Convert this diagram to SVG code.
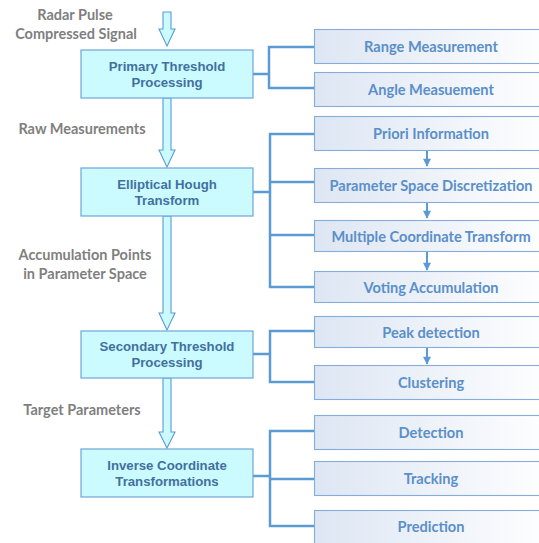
<svg xmlns="http://www.w3.org/2000/svg" width="539" height="543" viewBox="0 0 539 543">
  <defs>
    <linearGradient id="subFill" x1="0" y1="0" x2="1" y2="0">
      <stop offset="0" stop-color="#dde6f3"/>
      <stop offset="1" stop-color="#ffffff"/>
    </linearGradient>
    <marker id="tip" viewBox="0 0 10 10" refX="9" refY="5" markerWidth="10" markerHeight="8" markerUnits="userSpaceOnUse" orient="auto">
      <path d="M0,0 L10,5 L0,10 Z" fill="#5b9bd5"/>
    </marker>
    <style>
      .stage { fill: #ccfbff; stroke: #6ea6d8; stroke-width: 1.2; }
      .stage-t { font-family: "Liberation Sans", Arial, sans-serif; font-weight: bold; font-size: 13.2px; fill: #41709f; text-anchor: middle; }
      .sub { fill: url(#subFill); stroke: #86acdb; stroke-width: 1.1; }
      .sub-t { font-family: Lato, "Open Sans", sans-serif; font-weight: bold; font-size: 14.6px; fill: #5a8fc9; text-anchor: middle; }
      .lbl { font-family: Lato, "Open Sans", sans-serif; font-weight: bold; font-size: 14.5px; fill: #7f7f7f; text-anchor: middle; }
      .flow { fill: #ccfbff; stroke: #5b9bd5; stroke-width: 1.1; }
      .bracket { fill: none; stroke: #5b9bd5; stroke-width: 2.5; }
      .step { fill: none; stroke: #5b9bd5; stroke-width: 2; marker-end: url(#tip); }
    </style>
  </defs>

  <!-- flow labels between stages -->
  <g id="labels">
    <text class="lbl" x="75" y="20">Radar Pulse</text>
    <text class="lbl" x="76" y="39">Compressed Signal</text>
    <text class="lbl" x="82" y="134">Raw Measurements</text>
    <text class="lbl" x="85" y="260">Accumulation Points</text>
    <text class="lbl" x="85" y="279">in Parameter Space</text>
    <text class="lbl" x="82" y="415">Target Parameters</text>
  </g>

  <!-- connectors: hollow block arrows, brackets and step arrows -->
  <g id="connectors">
    <path class="flow" d="M163,12 H171 V29 H175 L167,46 L159,29 H163 Z"/>
    <path class="flow" d="M163,98 H171 V150 H175 L167,167 L159,150 H163 Z"/>
    <path class="flow" d="M163,216 H171 V313 H175 L167,330 L159,313 H163 Z"/>
    <path class="flow" d="M163,378 H171 V432 H175 L167,448 L159,432 H163 Z"/>

    <path class="bracket" d="M253,74 H269 M314,47 H269 V88 H314"/>
    <path class="bracket" d="M253,192 H270 M314,134 H270 V287 H314 M270,182 H314 M270,235 H314"/>
    <path class="bracket" d="M253,354 H270 M314,331 H270 V382 H314"/>
    <path class="bracket" d="M253,476 H270 M314,431 H270 V526 H314 M270,479 H314"/>

    <path class="step" d="M427,150 V166"/>
    <path class="step" d="M427,202 V218"/>
    <path class="step" d="M427,251 V270"/>
    <path class="step" d="M427,348 V364"/>
  </g>

  <!-- main stages -->
  <g id="primary-threshold">
    <rect class="stage" x="81" y="50" width="172" height="48"/>
    <text class="stage-t" x="167" y="71">Primary Threshold</text>
    <text class="stage-t" x="167" y="87">Processing</text>
  </g>
  <g id="elliptical-hough">
    <rect class="stage" x="81" y="168" width="172" height="48"/>
    <text class="stage-t" x="167" y="189">Elliptical Hough</text>
    <text class="stage-t" x="167" y="205">Transform</text>
  </g>
  <g id="secondary-threshold">
    <rect class="stage" x="81" y="331" width="172" height="47"/>
    <text class="stage-t" x="167" y="351">Secondary Threshold</text>
    <text class="stage-t" x="167" y="367">Processing</text>
  </g>
  <g id="inverse-coordinate">
    <rect class="stage" x="81" y="449" width="172" height="48"/>
    <text class="stage-t" x="167" y="470">Inverse Coordinate</text>
    <text class="stage-t" x="167" y="486">Transformations</text>
  </g>

  <!-- sub-steps -->
  <g id="range-measurement">
    <rect class="sub" x="314.5" y="29.5" width="240" height="34"/>
    <text class="sub-t" x="431" y="51.5">Range Measurement</text>
  </g>
  <g id="angle-measurement">
    <rect class="sub" x="314.5" y="72.5" width="240" height="34"/>
    <text class="sub-t" x="431" y="94.5">Angle Measuement</text>
  </g>
  <g id="priori-information">
    <rect class="sub" x="314.5" y="116.5" width="240" height="34"/>
    <text class="sub-t" x="431" y="138.5">Priori Information</text>
  </g>
  <g id="parameter-space">
    <rect class="sub" x="314.5" y="168.5" width="240" height="34"/>
    <text class="sub-t" x="431" y="190.5">Parameter Space Discretization</text>
  </g>
  <g id="coordinate-transform">
    <rect class="sub" x="314.5" y="220.5" width="240" height="31"/>
    <text class="sub-t" x="431" y="241.5">Multiple Coordinate Transform</text>
  </g>
  <g id="voting-accumulation">
    <rect class="sub" x="314.5" y="271.5" width="240" height="31"/>
    <text class="sub-t" x="431" y="292.5">Voting Accumulation</text>
  </g>
  <g id="peak-detection">
    <rect class="sub" x="314.5" y="316.5" width="240" height="31"/>
    <text class="sub-t" x="431" y="337.5">Peak detection</text>
  </g>
  <g id="clustering">
    <rect class="sub" x="314.5" y="365.5" width="240" height="34"/>
    <text class="sub-t" x="431" y="387.5">Clustering</text>
  </g>
  <g id="detection">
    <rect class="sub" x="314.5" y="415.5" width="240" height="34"/>
    <text class="sub-t" x="431" y="437.5">Detection</text>
  </g>
  <g id="tracking">
    <rect class="sub" x="314.5" y="461.5" width="240" height="34"/>
    <text class="sub-t" x="431" y="483.5">Tracking</text>
  </g>
  <g id="prediction">
    <rect class="sub" x="314.5" y="510.5" width="240" height="40"/>
    <text class="sub-t" x="431" y="531.5">Prediction</text>
  </g>
</svg>
